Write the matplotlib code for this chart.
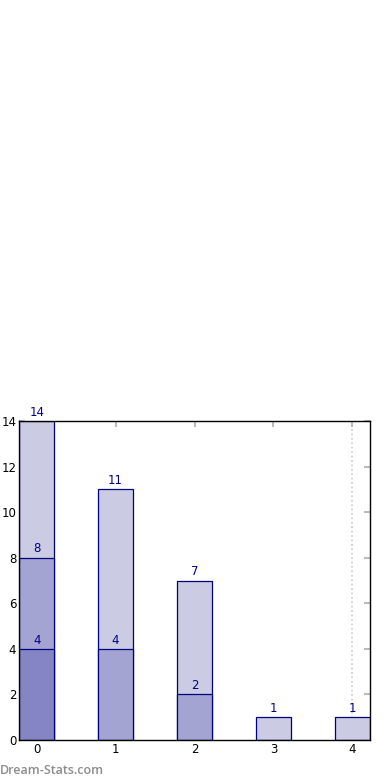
import numpy as np
import matplotlib
matplotlib.use("Agg")
import matplotlib.pyplot as plt

# data
categories = [0, 1, 2, 3, 4]
totals = [14, 11, 7, 1, 1]
middle = [8, 4, 2, 0, 0]
lowest = [4, 0, 0, 0, 0]

width = 0.45
layers = [(totals, "#cbcbe3"), (middle, "#a4a4d2"), (lowest, "#8585c3")]

fig = plt.figure(figsize=(3.9, 7.8), dpi=100)
ax = fig.add_axes([19 / 390, 40 / 780, 351 / 390, 319 / 780])

x = np.arange(len(categories))
for vals, col in layers:
    vals = np.array(vals)
    mask = vals > 0
    ax.bar(x[mask], vals[mask], width, color=col, edgecolor="#000080", linewidth=0.9, zorder=2)
    for xi, v in zip(x[mask], vals[mask]):
        ax.text(xi, v + 0.1, str(v), color="#000080", ha="center", va="bottom", fontsize=8.5, zorder=3)

ax.axvline(4, color="#cccccc", linestyle=":", linewidth=1.2, zorder=1)

ax.set_xlim(-width / 2, len(categories) - 1 + width / 2)
ax.set_ylim(0, 14)
ax.set_xticks(x)
ax.set_xticklabels([str(c) for c in categories])
ax.set_yticks(np.arange(0, 15, 2))
ax.tick_params(direction="in", length=4, width=1.5, color="#bbbbbb", labelsize=8.5, pad=2,
               top=True, right=True)
for s in ax.spines.values():
    s.set_linewidth(1.0)
    s.set_zorder(4)

fig.text(0.0, 10 / 780, "Dream-Stats.com", color="#8c8c8c", fontsize=9, fontweight="semibold",
         family="Open Sans", ha="left", va="center")

fig.savefig("out.png", dpi=100)
